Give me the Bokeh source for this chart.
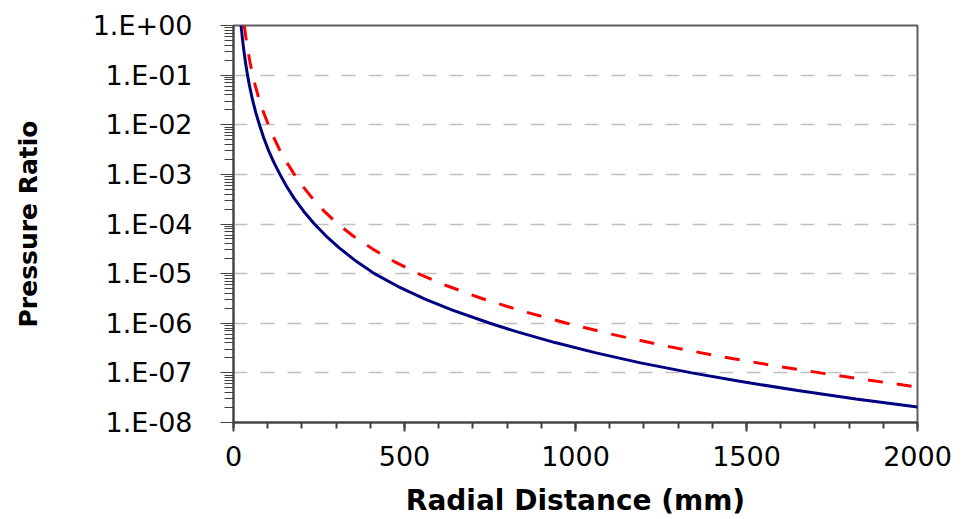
from bokeh.plotting import figure
from bokeh.models import Range1d, FixedTicker, CustomJSTickFormatter
from bokeh.embed import file_html
from bokeh.resources import INLINE

# Radial distance (mm) and pressure ratio
r_solid = [22.2, 26, 30, 35, 41, 47, 55, 65, 75.8, 88, 102, 118, 135.8, 155, 178, 205, 236.6, 270, 310, 360,
           412, 480, 560, 640, 750, 830, 940, 1060, 1190, 1340, 1480, 1650, 1820, 2000]
p_solid = [1.0, 5.53e-1, 3.23e-1, 1.81e-1, 1.0e-1, 5.99e-2, 3.32e-2, 1.775e-2, 1.0e-2, 5.55e-3, 3.09e-3, 1.74e-3,
           1.0e-3, 5.78e-4, 3.25e-4, 1.81e-4, 1.0e-4, 5.78e-5, 3.26e-5, 1.75e-5,
           1.0e-5, 5.56e-6, 3.07e-6, 1.84e-6, 1.0e-6, 6.69e-7, 4.08e-7, 2.53e-7, 1.59e-7, 1.0e-7,
           6.75e-8, 4.4e-8, 2.98e-8, 2.05e-8]

r_dash = [31.5, 36, 41, 48, 56, 64, 74, 87, 102, 117, 135, 155, 178, 205, 235, 268, 305, 350, 405, 470,
          540, 620, 720, 840, 975, 1100, 1250, 1420, 1580, 1716, 1850, 2000]
p_dash = [1.0, 5.86e-1, 3.48e-1, 1.86e-1, 1.0e-1, 6.0e-2, 3.43e-2, 1.84e-2, 1.0e-2, 5.67e-3, 3.13e-3, 1.77e-3,
          1.0e-3, 5.47e-4, 3.04e-4, 1.73e-4, 1.0e-4, 5.74e-5, 3.19e-5, 1.75e-5,
          1.0e-5, 5.83e-6, 3.26e-6, 1.79e-6, 1.0e-6, 6.12e-7, 3.64e-7, 2.16e-7, 1.4e-7, 1.0e-7,
          7.25e-8, 5.2e-8]

y_decades = [1e-8, 1e-7, 1e-6, 1e-5, 1e-4, 1e-3, 1e-2, 1e-1, 1e0]
x_major = [0, 500, 1000, 1500, 2000]
x_minor = list(range(0, 2001, 100))

y_minor = [m * d for d in y_decades[:-1] for m in range(2, 10)]

p = figure(width=955, height=519, y_axis_type="log",
           x_range=Range1d(0, 2000), y_range=Range1d(1e-8, 1.0),
           output_backend="svg", toolbar_location=None,
           min_border_left=233, min_border_right=38, min_border_top=25, min_border_bottom=96)

p.background_fill_color = "white"
p.border_fill_color = "white"
p.outline_line_color = "#606060"
p.outline_line_width = 2

p.line(r_solid, p_solid, line_color="#000080", line_width=3)
p.line(r_dash, p_dash, line_color="#ff0000", line_width=3, line_dash="15 14")

# Axes
xa = p.xaxis[0]
xa.ticker = FixedTicker(ticks=x_major, minor_ticks=x_minor)
xa.axis_label = "Radial Distance (mm)"
xa.axis_label_text_font = "DejaVu Sans"
xa.axis_label_text_font_style = "bold"
xa.axis_label_text_font_size = "28px"
xa.axis_label_text_color = "black"
xa.axis_label_standoff = 15
xa.major_label_text_font = "DejaVu Sans"
xa.major_label_text_font_size = "27px"
xa.major_label_text_color = "black"
xa.major_label_standoff = 14
xa.axis_line_color = "#404040"
xa.axis_line_width = 2
xa.major_tick_line_color = "#404040"
xa.major_tick_line_width = 2
xa.minor_tick_line_color = "#404040"
xa.minor_tick_line_width = 2
xa.major_tick_in = 0
xa.major_tick_out = 9
xa.minor_tick_in = 0
xa.minor_tick_out = 6

ya = p.yaxis[0]
ya.ticker = FixedTicker(ticks=y_decades, minor_ticks=y_minor)
ya.formatter = CustomJSTickFormatter(code="""
const e = Math.round(Math.log10(tick));
const a = Math.abs(e);
return "1.E" + (e < 0 ? "-" : "+") + (a < 10 ? "0" : "") + a;
""")
ya.axis_label = "Pressure Ratio"
ya.axis_label_text_font = "DejaVu Sans"
ya.axis_label_text_font_style = "bold"
ya.axis_label_text_font_size = "25px"
ya.axis_label_text_color = "black"
ya.axis_label_standoff = 47
ya.major_label_text_font = "DejaVu Sans"
ya.major_label_text_font_size = "27px"
ya.major_label_text_color = "black"
ya.major_label_standoff = 28
ya.axis_line_color = "#404040"
ya.axis_line_width = 2
ya.major_tick_line_color = "#404040"
ya.major_tick_line_width = 1
ya.minor_tick_line_color = "#404040"
ya.minor_tick_line_width = 1
ya.major_tick_in = 0
ya.major_tick_out = 13
ya.minor_tick_in = 0
ya.minor_tick_out = 9

p.xgrid.visible = False
p.ygrid.grid_line_color = "#c0c0c0"
p.ygrid.grid_line_width = 1.5
p.ygrid.grid_line_dash = "14 13"

open("out.html", "w").write(file_html(p, INLINE))
